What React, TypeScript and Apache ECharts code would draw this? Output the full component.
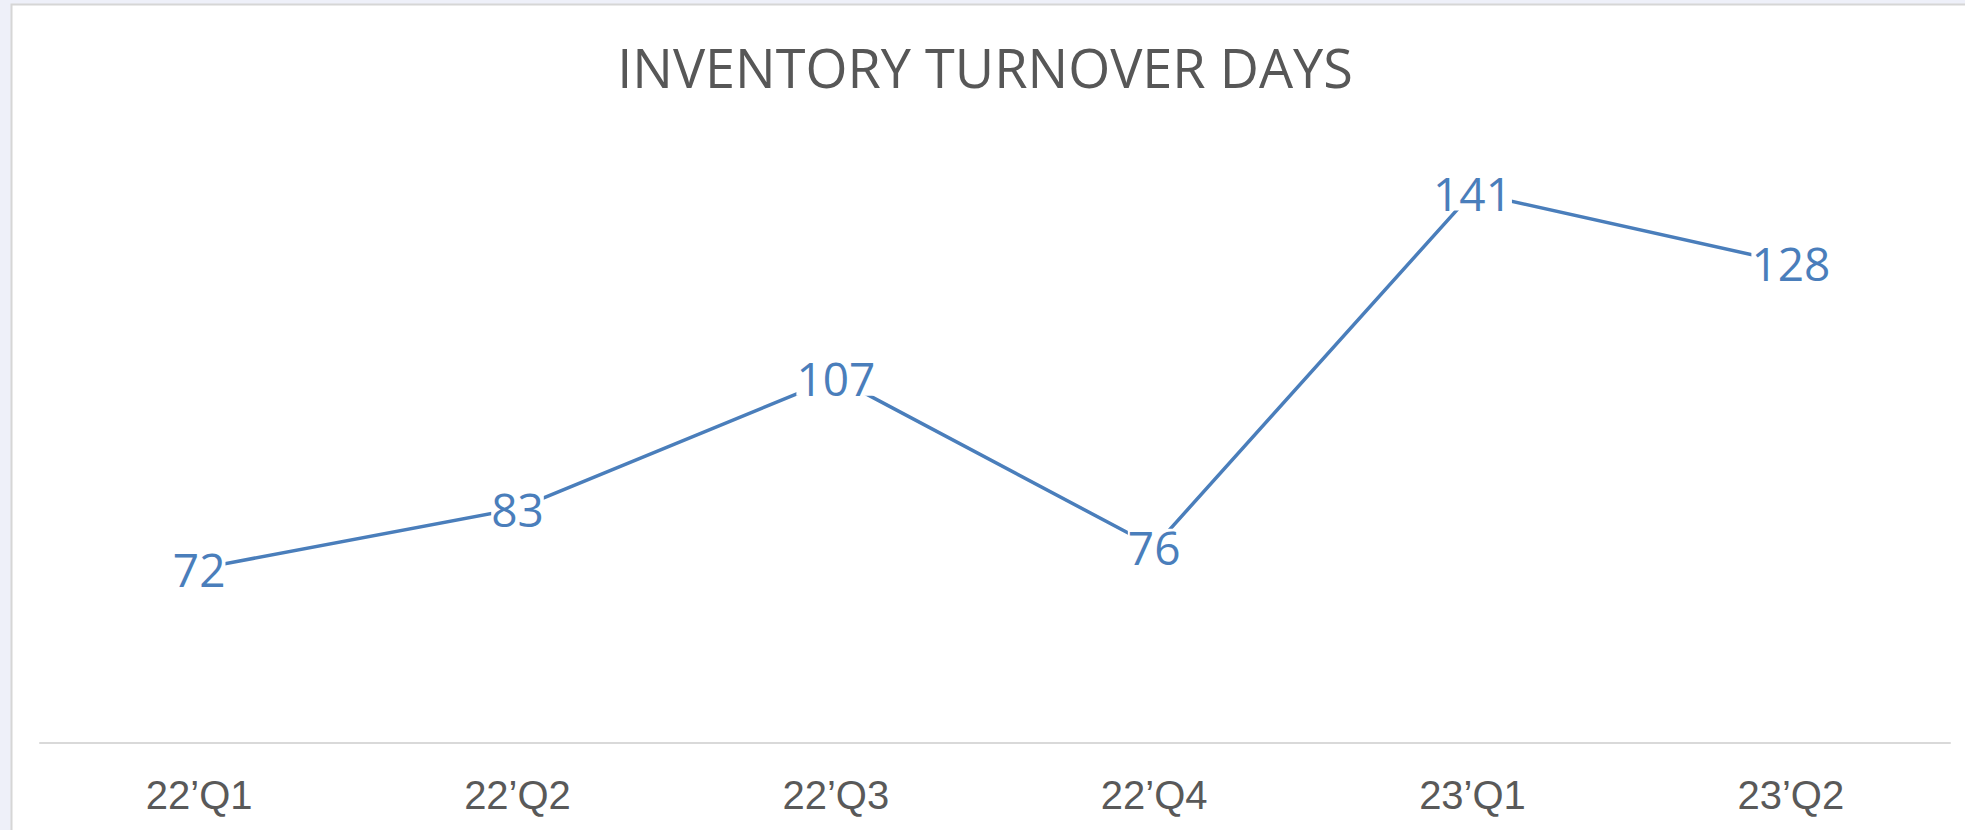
import React, { useEffect, useRef } from "react";
import * as echarts from "echarts";

const titleText = "INVENTORY TURNOVER DAYS";
const categories = ["22\u2019Q1", "22\u2019Q2", "22\u2019Q3", "22\u2019Q4", "23\u2019Q1", "23\u2019Q2"];
const turnoverDays = [72, 83, 107, 76, 141, 128];
const yMin = 40;
const yMax = 160;

export default function App() {
  const ref = useRef<HTMLDivElement>(null);
  useEffect(() => {
    if (!ref.current) return;
    const chart = echarts.init(ref.current, null, { renderer: "svg" });
    chart.setOption({
      animation: false,
      backgroundColor: "#eef0f9",
      graphic: [
        {
          type: "rect",
          z: -10,
          shape: { x: 11.5, y: 4.5, width: 2000, height: 900 },
          style: { fill: "#ffffff", stroke: "#d6d6d6", lineWidth: 2 },
          silent: true,
        },
        {
          type: "text",
          x: 985,
          y: 40,
          style: {
            text: titleText,
            fontSize: 54,
            fontWeight: 500,
            fontFamily: "Open Sans",
            fill: "#575757",
            textAlign: "center",
            textVerticalAlign: "top",
          },
        },
      ],
      grid: { left: 40, right: 15, top: 89, bottom: 87, containLabel: false },
      xAxis: {
        type: "category",
        data: categories,
        boundaryGap: true,
        axisLine: { show: true, lineStyle: { color: "#d9d9d9", width: 2 } },
        axisTick: { show: false },
        axisLabel: {
          color: "#595959",
          fontSize: 40,
          fontFamily: "Liberation Sans",
          margin: 32,
        },
        splitLine: { show: false },
      },
      yAxis: {
        type: "value",
        min: yMin,
        max: yMax,
        show: false,
        splitLine: { show: false },
      },
      series: [
        {
          type: "line",
          data: turnoverDays,
          symbol: "circle",
          symbolSize: 0.1,
          showSymbol: true,
          lineStyle: { color: "#4a7ebb", width: 3.5 },
          itemStyle: { color: "#4a7ebb" },
          label: {
            show: true,
            position: "inside",
            color: "#4a7ebb",
            fontSize: 46,
            fontFamily: "Open Sans",
            backgroundColor: "#ffffff",
            lineHeight: 36,
            padding: [0, 0],
          },
        },
      ],
    });
    return () => chart.dispose();
  }, []);
  return (
    <div
      ref={ref}
      style={{ position: "fixed", left: 0, top: 0, width: 1965, height: 830 }}
    />
  );
}
